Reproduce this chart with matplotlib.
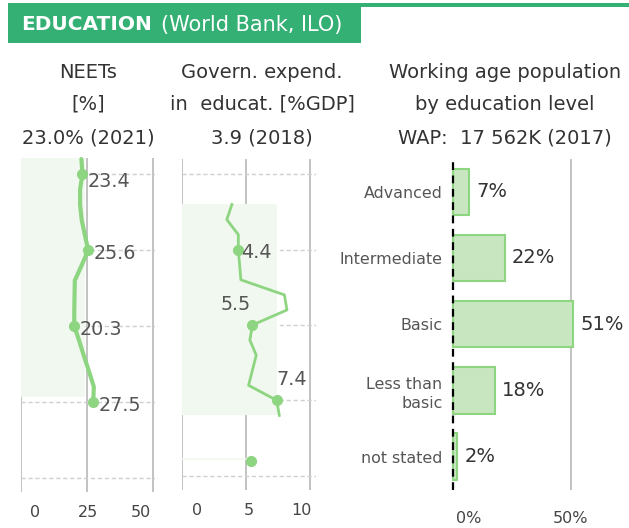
import matplotlib
matplotlib.use("Agg")
import matplotlib.pyplot as plt
from matplotlib.patches import Rectangle

plt.rcParams['font.family'] = ['DejaVu Sans']

# ---------------- data ----------------
neet_years = [2021, 2020, 2019, 2018, 2017, 2016, 2015, 2014, 2013, 2012, 2011,
              2010, 2009, 2008, 2007, 2006, 2005]
neet_vals = [23.0, 23.4, 22.5, 22.5, 23.1, 24.3, 25.6, 23.1, 20.5, 20.4, 20.3,
             20.3, 22.2, 24.0, 25.9, 27.7, 27.5]
neet_marked_years = [2020, 2015, 2010, 2005]
neet_band_value = 24.4
neet_band_years = (2005.3, 2021.1)

gov_years = [2018, 2017, 2016, 2015, 2014, 2013, 2012, 2011, 2010, 2009, 2008,
             2007, 2006, 2005, 2004]
gov_vals = [3.9, 3.5, 4.4, 4.4, 4.5, 4.6, 8.0, 8.2, 5.5, 5.3, 5.8, 5.5, 5.2, 7.4, 7.6]
gov_marked_years = [2015, 2010, 2005]
gov_iso_year = [2001]
gov_iso_val = [5.4]
gov_band_value = 7.4
gov_band_years = (2004, 2018)

edu_levels = ["Advanced", "Intermediate", "Basic", "Less than\nbasic", "not stated"]
edu_shares = [7, 22, 51, 18, 2]

grid_years = [2000, 2005, 2010, 2015, 2020]
neet_ticks = [0, 25, 50]
gov_ticks = [0, 5, 10]
edu_ticks = [0, 50]

# ---------------- style ----------------
W, H = 629, 528
GREEN = '#34b074'
LINE = '#8ed581'
BAND = '#f1f8ef'
BAR_FACE = '#c8e7c0'
BAR_EDGE = '#8ed581'
VGRID = '#bdbdbd'
HGRID = '#cfcfcf'
TXT = '#333333'
LBL = '#555555'

fig = plt.figure(figsize=(W / 100, H / 100), dpi=100)


def box(x0, y0, x1, y1):
    return [x0 / W, 1 - y1 / H, (x1 - x0) / W, (y1 - y0) / H]


def style_time_axes(ax, xticks):
    ax.set_xticks(xticks)
    ax.set_yticks(grid_years)
    ax.xaxis.grid(True, color=VGRID, lw=1.3, zorder=0)
    ax.yaxis.grid(True, color=HGRID, lw=1.0, ls=(0, (3, 2)), zorder=0)
    ax.tick_params(length=0, labelbottom=False, labelleft=False)
    for s in ax.spines.values():
        s.set_visible(False)
    ax.set_axisbelow(True)


def tick_label_axes(rect, lim, ticks, labels):
    a = fig.add_axes(rect)
    a.set_xlim(*lim)
    a.set_xticks(ticks)
    a.set_xticklabels(labels, fontsize=11.5, color='#444444')
    a.set_yticks([])
    a.tick_params(length=0, pad=0)
    for s in a.spines.values():
        s.set_visible(False)
    a.patch.set_alpha(0)
    return a


# ---------------- banner ----------------
fig.patches.append(Rectangle((361 / W, 1 - 6.7 / H), (W - 361) / W, 3.4 / H,
                             transform=fig.transFigure, color=GREEN, lw=0))
fig.patches.append(Rectangle((8 / W, 1 - 43.3 / H), (361 - 8) / W, 40.6 / H,
                             transform=fig.transFigure, color=GREEN, lw=0))
t1 = fig.text(21.5 / W, 1 - 24.5 / H, "EDUCATION", color='white', fontsize=14.5,
              fontweight='bold', va='center', ha='left')
fig.canvas.draw()
r = fig.canvas.get_renderer()
bb = t1.get_window_extent(r)
fig.text(bb.x1 / W + 9 / W, 1 - 24.5 / H, "(World Bank, ILO)", color='white',
         fontsize=15.0, va='center', ha='left')

# ---------------- titles ----------------
title_rows = [73, 104, 138]
for cx, lines in [(88, ["NEETs", "[%]", "23.0% (2021)"]),
                  (262, ["Govern. expend.", "in  educat. [%GDP]", "3.9 (2018)"]),
                  (505, ["Working age population", "by education level",
                         "WAP:  17 562K (2017)"])]:
    for y, s in zip(title_rows, lines):
        fig.text(cx / W, 1 - y / H, s, ha='center', va='center', fontsize=14.0,
                 color=TXT)

# ---------------- panel 1: NEETs ----------------
ax1 = fig.add_axes(box(20.7, 158.3, 155.3, 491.7))
ax1.set_xlim(0, 51)
ax1.set_ylim(1999.08, 2021.05)
style_time_axes(ax1, neet_ticks)
ax1.fill_betweenx(list(neet_band_years), 0, neet_band_value, color=BAND, lw=0, zorder=1)
ax1.plot(neet_vals, neet_years, color=LINE, lw=3.0, solid_joinstyle='round',
         solid_capstyle='round', zorder=3, clip_on=False)
for yr in neet_marked_years:
    v = neet_vals[neet_years.index(yr)]
    ax1.plot([v], [yr], 'o', color=LINE, ms=7, zorder=4)
    ax1.annotate(f"{v:.1f}", (v, yr), xytext=(4, -2.5 if yr != 2020 else -5),
                 textcoords='offset points', ha='left', va='center',
                 fontsize=13.8, color=LBL, zorder=5)

tick_label_axes(box(35, 497, 141, 505), (0, 50), neet_ticks,
                [str(t) for t in neet_ticks])

# ---------------- panel 2: Gov expenditure ----------------
ax2 = fig.add_axes(box(182, 159.3, 316.4, 490))
ax2.set_xlim(0, 10.5)
ax2.set_ylim(1999.05, 2021.0)
style_time_axes(ax2, gov_ticks)
ax2.fill_betweenx(list(gov_band_years), 0, gov_band_value, color=BAND, lw=0, zorder=1)
ax2.plot([0, gov_iso_val[0]], [gov_iso_year[0] + 0.1] * 2, color=BAND, lw=1.2, zorder=1)
ax2.plot(gov_vals, gov_years, color=LINE, lw=2.0, solid_joinstyle='round',
         zorder=3)
ax2.plot(gov_iso_val, gov_iso_year, 'o', color=LINE, ms=7, zorder=4)
gov_offsets = {2015: ((2, -2), 'left', 'center'),
               2010: ((-1, 8), 'right', 'bottom'),
               2005: ((0, 8), 'left', 'bottom')}
for yr in gov_marked_years:
    v = gov_vals[gov_years.index(yr)]
    ax2.plot([v], [yr], 'o', color=LINE, ms=7, zorder=4)
    off, ha, va = gov_offsets[yr]
    ax2.annotate(f"{v:.1f}", (v, yr), xytext=off, textcoords='offset points',
                 ha=ha, va=va, fontsize=13.8, color=LBL, zorder=5)

tick_label_axes(box(196.7, 495, 301.7, 503), (0, 10), gov_ticks,
                [str(t) for t in gov_ticks])

# ---------------- panel 3: WAP by education ----------------
ax3 = fig.add_axes(box(448, 158.6, 629, 489.8))
ax3.set_xlim(-2, 74.7)
ax3.set_ylim(4.5, -0.5)
ypos = list(range(len(edu_levels)))
ax3.barh(ypos, edu_shares, height=0.70, color=BAR_FACE, edgecolor=BAR_EDGE,
         lw=1.5, zorder=2)
ax3.axvline(50, color=VGRID, lw=1.3, zorder=1, ymax=0.995)
ax3.axvline(0, color='black', lw=1.6, ls=(0, (3.5, 2.5)), zorder=3)
for y, v in zip(ypos, edu_shares):
    ax3.annotate(f"{v}%", (v, y), xytext=(5, 0), textcoords='offset points',
                 ha='left', va='center', fontsize=14, color=TXT)
ax3.set_yticks(ypos)
ax3.set_yticklabels(edu_levels, fontsize=11.4, color=LBL, linespacing=1.3)
ax3.set_xticks([])
ax3.tick_params(length=0, pad=4)
for s in ax3.spines.values():
    s.set_visible(False)

tick_label_axes(box(469, 503, 570.7, 511), (0, 50), edu_ticks,
                [f"{t}%" for t in edu_ticks])

fig.savefig("out.png", dpi=100)
